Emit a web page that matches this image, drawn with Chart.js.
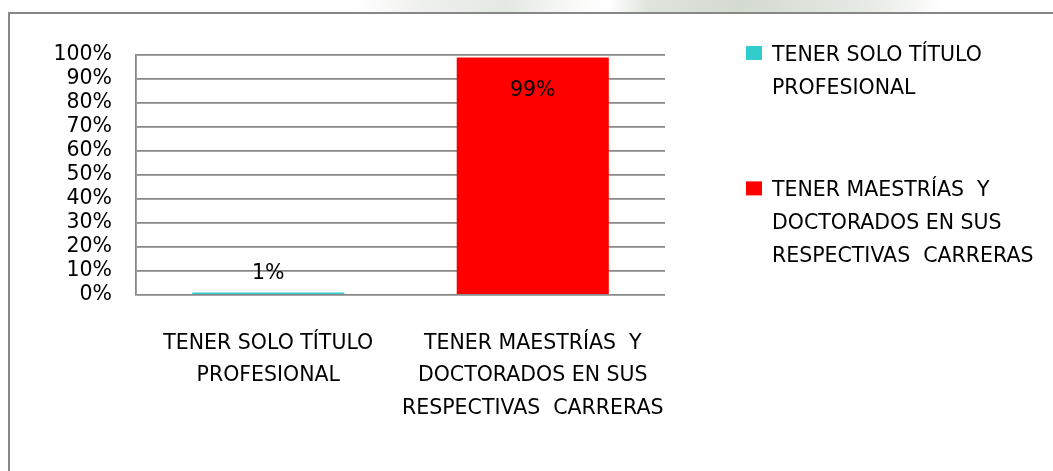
<!DOCTYPE html>
<html>
<head>
<meta charset="utf-8">
<script src="https://cdn.jsdelivr.net/npm/chart.js@4.4.0/dist/chart.umd.min.js"></script>
<style>
html, body { margin: 0; padding: 0; background: #fff; }
#wrap { position: relative; width: 1053px; height: 471px; overflow: hidden; }
#marca { position: absolute; left: 0; top: 0; width: 1053px; height: 12px;
  background: linear-gradient(100deg, #fff 0, #fff 350px, #eef0ed 420px, #e4e8e3 500px, #f8f9f7 560px, #fff 600px, #dfe4dc 640px, #d3dad0 730px, #e8ebe6 860px, #fff 930px); }
#marco { position: absolute; left: 8px; top: 12px; width: 1100px; height: 500px;
  border-left: 2px solid #878787; border-top: 2px solid #878787; }
canvas { position: absolute; left: 0; top: 0; }
</style>
</head>
<body>
<div id="wrap">
  <div id="marca"></div>
  <div id="marco"></div>
  <canvas id="grafico" width="1053" height="471"></canvas>
</div>
<script>
const categorias = [
    ["TENER SOLO TÍTULO", "PROFESIONAL"],
    ["TENER MAESTRÍAS  Y", "DOCTORADOS EN SUS", "RESPECTIVAS  CARRERAS"],
];
const valores = [1, 99];
const colores = ["#33CCCC", "#FF0000"];
const marcasY = [0, 10, 20, 30, 40, 50, 60, 70, 80, 90, 100];

const fuente = '"DejaVu Sans", sans-serif';
const tamano = 20.5;

// etiquetas de valor sobre / dentro de cada barra
const etiquetasDatos = {
    id: "etiquetasDatos",
    afterDatasetsDraw(chart) {
        const ctx = chart.ctx;
        const meta = chart.getDatasetMeta(0);
        ctx.save();
        ctx.font = tamano + "px " + fuente;
        ctx.fillStyle = "#000";
        ctx.textAlign = "center";
        ctx.textBaseline = "alphabetic";
        meta.data.forEach((barra, i) => {
            const alto = barra.base - barra.y;
            const y = alto > 60 ? barra.y + 39 : barra.y - 14;
            ctx.fillText(valores[i] + "%", barra.x, y);
        });
        ctx.restore();
    },
};

// leyenda a la derecha, una entrada por categoría
const leyenda = {
    id: "leyenda",
    afterDraw(chart) {
        const ctx = chart.ctx;
        const paso = 32.7;
        let y = 61;
        ctx.save();
        ctx.font = tamano + "px " + fuente;
        ctx.textBaseline = "alphabetic";
        ctx.textAlign = "left";
        categorias.forEach((lineas, i) => {
            ctx.fillStyle = colores[i];
            ctx.fillRect(746, y - 15, 16, 14);
            ctx.fillStyle = "#000";
            lineas.forEach((t, k) => ctx.fillText(t, 772, y + k * paso));
            y += lineas.length * paso + 70;
        });
        ctx.restore();
    },
};

new Chart(document.getElementById("grafico"), {
    type: "bar",
    data: {
        labels: categorias,
        datasets: [
            {
                data: valores,
                backgroundColor: colores,
                borderWidth: 0,
                barPercentage: 0.575,
                categoryPercentage: 1,
            },
        ],
    },
    options: {
        responsive: false,
        animation: false,
        events: [],
        layout: { padding: { left: 0, top: 55, right: 388, bottom: 0 } },
        plugins: { legend: { display: false }, tooltip: { enabled: false } },
        scales: {
            x: {
                grid: { display: false, drawTicks: false },
                border: { display: false },
                ticks: {
                    color: "#000",
                    font: { family: fuente, size: tamano, lineHeight: 1.59 },
                    padding: 32,
                    maxRotation: 0,
                    minRotation: 0,
                    autoSkip: false,
                },
                afterFit(scale) { scale.height = 176; },
            },
            y: {
                min: 0,
                max: 100,
                afterBuildTicks(scale) { scale.ticks = marcasY.map(v => ({ value: v })); },
                grid: { color: "#888888", lineWidth: 1.8, drawTicks: false },
                border: { color: "#888888", width: 1.8 },
                ticks: {
                    color: "#000",
                    font: { family: fuente, size: tamano },
                    padding: 24,
                    autoSkip: false,
                    callback: v => v + "%",
                },
                afterFit(scale) { scale.width = 136; },
            },
        },
    },
    plugins: [etiquetasDatos, leyenda],
});
</script>
</body>
</html>
